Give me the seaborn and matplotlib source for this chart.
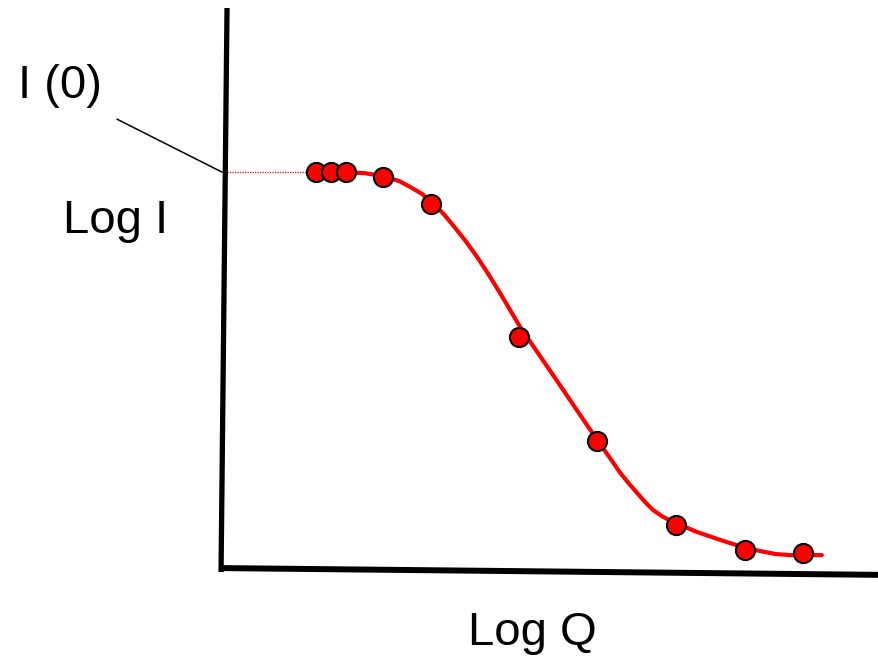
import numpy as np
import pandas as pd
import seaborn as sns
import matplotlib.pyplot as plt

# measured points (log Q, log I), arbitrary units
logQ = [1.43, 1.66, 1.89, 2.45, 3.18, 4.52, 5.71, 6.91, 7.96, 8.84]
logI = [7.09, 7.09, 7.09, 7.00, 6.52, 4.17, 2.32, 0.83, 0.39, 0.34]

# fitted curve
fitQ = [1.90, 2.18, 2.45, 2.70, 2.86, 3.05, 3.21, 3.38, 3.55, 3.72, 3.88,
        4.05, 4.23, 4.54, 5.14, 5.71, 5.90, 6.06, 6.20, 6.32, 6.44, 6.56,
        6.71, 6.86, 7.23, 7.58, 7.96, 8.20, 8.42, 8.65, 8.89, 9.13]
fitI = [7.09, 7.07, 7.02, 6.93, 6.83, 6.70, 6.54, 6.34, 6.10, 5.85, 5.59,
        5.29, 4.95, 4.34, 3.32, 2.34, 2.03, 1.76, 1.56, 1.40, 1.24, 1.10,
        0.98, 0.89, 0.71, 0.57, 0.43, 0.37, 0.32, 0.30, 0.30, 0.30]

I0 = 7.09

sns.set_theme(style='white')
plt.rcParams['font.family'] = ['Liberation Sans', 'DejaVu Sans']
plt.rcParams['text.color'] = 'black'

fig = plt.figure(figsize=(8.79, 6.56), dpi=100)
ax = fig.add_axes([0.2526, 0.128, 0.7474, 0.8598])
ax.set_xlim(0, 10)
ax.set_ylim(0, 10)
ax.set_axis_off()

fit = pd.DataFrame({'q': fitQ, 'i': fitI})
pts = pd.DataFrame({'q': logQ, 'i': logI})

# extrapolation to I(0)
ax.plot([0.08, logQ[0]], [I0, I0], color='red', lw=0.9, ls=(0, (1, 1)), zorder=2)
sns.lineplot(data=fit, x='q', y='i', color='red', lw=3, sort=False,
             estimator=None, ax=ax, zorder=3, solid_joinstyle='round')
sns.scatterplot(data=pts, x='q', y='i', color='red', s=190, edgecolor='black',
                linewidth=1.5, ax=ax, zorder=4)

# hand-drawn looking axes (slightly tilted)
ax.plot([0.076, -0.015], [10.0, 0.0], color='black', lw=3.8,
        solid_capstyle='butt', clip_on=False)
ax.plot([-0.015, 10.0], [0.07, -0.05], color='black', lw=4.3,
        solid_capstyle='butt', clip_on=False)

# leader line from the I(0) label
ax.plot([-1.60, 0.0], [8.03, I0], color='black', lw=1.1, clip_on=False)

fig.text(18 / 879, 1 - 98 / 656, 'I (0)', fontsize=34, ha='left', va='baseline')
fig.text(63 / 879, 1 - 233 / 656, 'Log I', fontsize=34, ha='left', va='baseline')
fig.text(468 / 879, 1 - 645 / 656, 'Log Q', fontsize=34, ha='left', va='baseline')

fig.savefig('out.png', dpi=100, facecolor='white')
